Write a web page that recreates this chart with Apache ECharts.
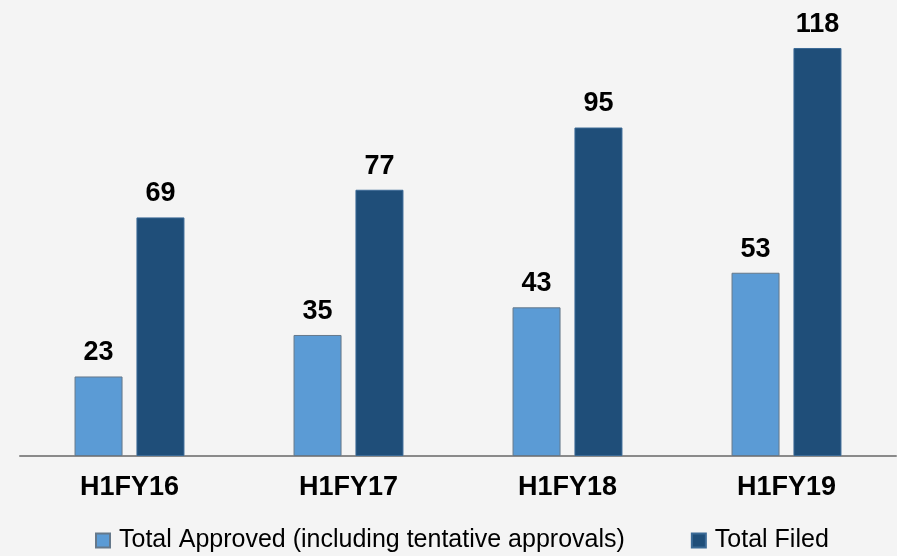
<!DOCTYPE html>
<html>
<head>
<meta charset="utf-8">
<script src="https://cdn.jsdelivr.net/npm/echarts@6/dist/echarts.min.js"></script>
<style>
  html, body { margin: 0; padding: 0; background: #f4f4f4; }
  #chart { width: 897px; height: 556px; }
</style>
</head>
<body>
<div id="chart"></div>
<script>
const categories = ['H1FY16', 'H1FY17', 'H1FY18', 'H1FY19']
const approved = [23, 35, 43, 53]
const filed = [69, 77, 95, 118]
const seriesNames = ['Total Approved (including tentative approvals)', 'Total Filed']

const font = "'Liberation Sans', Arial, sans-serif"
const chart = echarts.init(document.getElementById('chart'))

const valueLabel = {
  show: true,
  position: 'top',
  distance: 10,
  color: '#000',
  fontFamily: font,
  fontWeight: 'bold',
  fontSize: 27,
}

const option = {
  backgroundColor: '#f4f4f4',
  animation: false,
  grid: {
    left: 20,
    right: 1,
    top: 6.5,
    bottom: 100,
  },
  legend: {
    left: 90,
    top: 523,
    itemWidth: 14,
    itemHeight: 14,
    itemGap: 66,
    icon: 'rect',
    textStyle: {
      fontFamily: font,
      fontSize: 25,
      color: '#000',
      padding: [0, 0, 0, 4],
    },
    data: seriesNames,
  },
  xAxis: {
    type: 'category',
    data: categories,
    axisLine: { lineStyle: { color: '#8a8a8a', width: 2 } },
    axisTick: { show: false },
    axisLabel: {
      margin: 18,
      color: '#000',
      fontFamily: font,
      fontWeight: 'bold',
      fontSize: 27,
    },
  },
  yAxis: {
    type: 'value',
    min: 0,
    max: 130,
    show: false,
    splitLine: { show: false },
  },
  series: [
    {
      name: seriesNames[0],
      type: 'bar',
      data: approved,
      barWidth: 48,
      barGap: '29%',
      itemStyle: { color: '#5b9bd5', borderColor: '#65788a', borderWidth: 1 },
      label: valueLabel,
    },
    {
      name: seriesNames[1],
      type: 'bar',
      data: filed,
      barWidth: 48,
      itemStyle: { color: '#1f4e79', borderColor: '#3b6a96', borderWidth: 1 },
      label: valueLabel,
    },
  ],
}

chart.setOption(option)
</script>
</body>
</html>
